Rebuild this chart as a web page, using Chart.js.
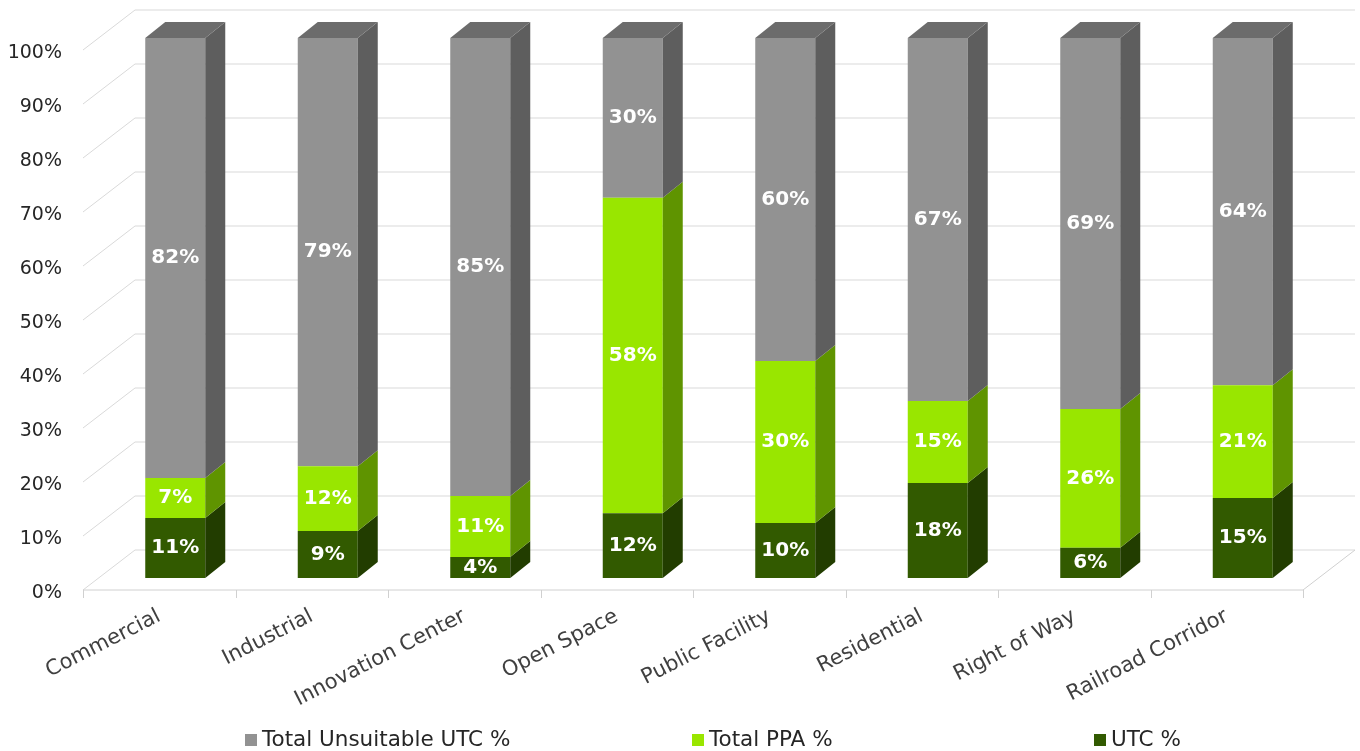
<!DOCTYPE html>
<html>
<head>
<meta charset="utf-8">
<script src="https://cdn.jsdelivr.net/npm/chart.js"></script>
<style>
  html, body { margin: 0; padding: 0; background: #ffffff; }
  #wrap { width: 1360px; height: 751px; }
</style>
</head>
<body>
<div id="wrap"><canvas id="myChart" width="1360" height="751"></canvas></div>
<script>
    const categories = ['Commercial', 'Industrial', 'Innovation Center', 'Open Space', 'Public Facility', 'Residential', 'Right of Way', 'Railroad Corridor']
    // values, rounded in the labels
    const utcValues = [11.1, 8.7, 3.9, 12.0, 10.2, 17.6, 5.6, 14.8]
    const ppaValues = [7.4, 12.0, 11.3, 58.4, 30.0, 15.2, 25.7, 20.9]
    const unsuitableValues = [81.5, 79.3, 84.8, 29.6, 59.8, 67.2, 68.7, 64.3]
    const yTicks = [0, 10, 20, 30, 40, 50, 60, 70, 80, 90, 100]
    const seriesNames = ['UTC %', 'Total PPA %', 'Total Unsuitable UTC %']

    const FONT = '"DejaVu Sans", sans-serif'
    const colors = {
        utc:        { front: '#325a00', side: '#223d00', top: '#2a4a00' },
        ppa:        { front: '#99e600', side: '#5f9400', top: '#7bbd00' },
        unsuitable: { front: '#929292', side: '#5e5e5e', top: '#6c6c6c' }
    }
    // 3d offsets relative to the bar front plane
    const depth = { dx: 20, dy: -16 }
    const floorFront = { dx: -16, dy: 12 }
    const wallBack = { dx: 36, dy: -28 }

    const threeD = {
        id: 'threeD',
        beforeDatasetsDraw(chart) {
            const ctx = chart.ctx
            const x = chart.scales.x, y = chart.scales.y
            const left = x.left, right = x.right
            ctx.save()
            ctx.strokeStyle = '#d9d9d9'
            ctx.lineWidth = 1
            yTicks.forEach(v => {
                const p = y.getPixelForValue(v)
                ctx.beginPath()
                ctx.moveTo(left + floorFront.dx, p + floorFront.dy)
                ctx.lineTo(left + wallBack.dx, p + wallBack.dy)
                ctx.lineTo(right + wallBack.dx, p + wallBack.dy)
                ctx.stroke()
            })
            // floor front and right edge
            const p0 = y.getPixelForValue(0)
            ctx.strokeStyle = '#d0d0d0'
            ctx.beginPath()
            ctx.moveTo(left + floorFront.dx, p0 + floorFront.dy)
            ctx.lineTo(right + floorFront.dx, p0 + floorFront.dy)
            ctx.lineTo(right + wallBack.dx, p0 + wallBack.dy)
            ctx.stroke()
            // category separators on the floor edge
            for (let i = 0; i <= categories.length; i++) {
                const px = Math.round(x.getPixelForValue(i - 0.5) + floorFront.dx) + 0.5
                ctx.beginPath()
                ctx.moveTo(px, p0 + floorFront.dy)
                ctx.lineTo(px, p0 + floorFront.dy + 8)
                ctx.stroke()
            }
            ctx.restore()
        },
        afterDatasetsDraw(chart) {
            const ctx = chart.ctx
            const keys = ['utc', 'ppa', 'unsuitable']
            ctx.save()
            chart.data.datasets.forEach((ds, di) => {
                const meta = chart.getDatasetMeta(di)
                const c = colors[keys[di]]
                meta.data.forEach(bar => {
                    const r = bar.x + bar.width / 2
                    const l = bar.x - bar.width / 2
                    ctx.fillStyle = c.side
                    ctx.beginPath()
                    ctx.moveTo(r, bar.y)
                    ctx.lineTo(r + depth.dx, bar.y + depth.dy)
                    ctx.lineTo(r + depth.dx, bar.base + depth.dy)
                    ctx.lineTo(r, bar.base)
                    ctx.closePath()
                    ctx.fill()
                    if (di === chart.data.datasets.length - 1) {
                        ctx.fillStyle = c.top
                        ctx.beginPath()
                        ctx.moveTo(l, bar.y)
                        ctx.lineTo(l + depth.dx, bar.y + depth.dy)
                        ctx.lineTo(r + depth.dx, bar.y + depth.dy)
                        ctx.lineTo(r, bar.y)
                        ctx.closePath()
                        ctx.fill()
                    }
                })
            })
            // value labels
            ctx.fillStyle = '#ffffff'
            ctx.font = 'bold 20px ' + FONT
            ctx.textAlign = 'center'
            ctx.textBaseline = 'middle'
            chart.data.datasets.forEach((ds, di) => {
                chart.getDatasetMeta(di).data.forEach((bar, i) => {
                    ctx.fillText(Math.round(ds.data[i]) + '%', bar.x, (bar.y + bar.base) / 2)
                })
            })
            ctx.restore()
        },
        afterDraw(chart) {
            // legend, spread the way the original lays it out
            const ctx = chart.ctx
            const items = [
                { name: seriesNames[2], color: colors.unsuitable.front, x: 245 },
                { name: seriesNames[1], color: colors.ppa.front, x: 692 },
                { name: seriesNames[0], color: colors.utc.front, x: 1094 }
            ]
            ctx.save()
            ctx.font = '21.5px ' + FONT
            ctx.textBaseline = 'middle'
            ctx.textAlign = 'left'
            items.forEach(it => {
                ctx.fillStyle = it.color
                ctx.fillRect(it.x, 734, 12, 12)
                ctx.fillStyle = '#262626'
                ctx.fillText(it.name, it.x + 17, 740)
            })
            ctx.restore()
        }
    }

    const data = {
        labels: categories,
        datasets: [
            { label: seriesNames[0], data: utcValues, backgroundColor: colors.utc.front },
            { label: seriesNames[1], data: ppaValues, backgroundColor: colors.ppa.front },
            { label: seriesNames[2], data: unsuitableValues, backgroundColor: colors.unsuitable.front }
        ]
    }

    const config = {
        type: 'bar',
        data,
        options: {
            responsive: false,
            animation: false,
            barPercentage: 1,
            categoryPercentage: 60 / 152.5,
            layout: { padding: { left: 0, right: 41, top: 38, bottom: 33 } },
            plugins: { legend: { display: false }, tooltip: { enabled: false } },
            scales: {
                x: {
                    stacked: true,
                    grid: { display: false, drawTicks: false },
                    border: { display: false },
                    ticks: {
                        minRotation: 27,
                        maxRotation: 27,
                        autoSkip: false,
                        labelOffset: -16,
                        padding: 26,
                        color: '#404040',
                        font: { family: FONT, size: 21 }
                    },
                    afterFit(s) { s.height = 140; s.paddingLeft = 0; s.paddingRight = 0 }
                },
                y: {
                    stacked: true,
                    min: 0,
                    max: 100,
                    grid: { display: false, drawTicks: false },
                    border: { display: false },
                    ticks: {
                        stepSize: 10,
                        padding: 37,
                        labelOffset: 15,
                        color: '#262626',
                        font: { family: FONT, size: 19 },
                        callback: v => v + '%'
                    },
                    afterFit(s) { s.width = 99; s.paddingTop = 0; s.paddingBottom = 0 }
                }
            }
        },
        plugins: [threeD]
    }

    const myChart = new Chart(document.getElementById('myChart'), config)
</script>
</body>
</html>
